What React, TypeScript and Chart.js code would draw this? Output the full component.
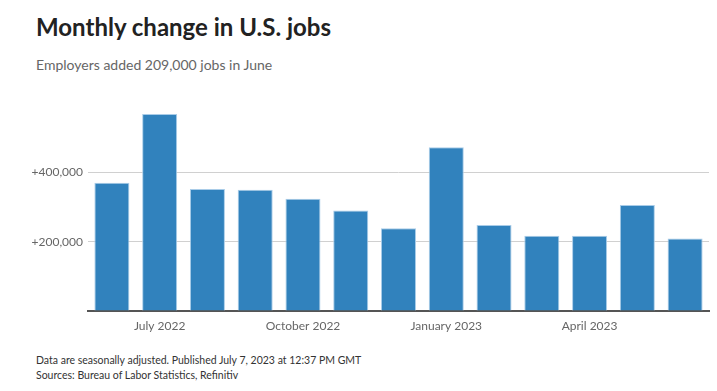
import React, { useEffect, useRef } from "react";
import { Chart, registerables } from "chart.js";

Chart.register(...registerables);

const months = [
  "June 2022", "July 2022", "August 2022", "September 2022", "October 2022",
  "November 2022", "December 2022", "January 2023", "February 2023",
  "March 2023", "April 2023", "May 2023", "June 2023",
];
const jobsAdded = [370000, 568000, 352000, 350000, 324000, 290000, 239000, 472000, 248000, 217000, 217000, 306000, 209000];
const yTicks = [0, 200000, 400000];

const FONT = "Lato, 'Open Sans', sans-serif";

export default function App() {
  const ref = useRef<HTMLCanvasElement | null>(null);

  useEffect(() => {
    if (!ref.current) return;
    const chart = new Chart(ref.current, {
      type: "bar",
      data: {
        labels: months,
        datasets: [
          {
            data: jobsAdded,
            backgroundColor: "#3182bd",
            borderColor: "#a9cce8",
            borderWidth: 1,
            barPercentage: 0.733,
            categoryPercentage: 1,
          },
        ],
      },
      options: {
        animation: false,
        responsive: false,
        maintainAspectRatio: false,
        layout: { padding: { left: 0, right: 8, top: 13, bottom: 0 } },
        plugins: { legend: { display: false }, tooltip: { enabled: false } },
        scales: {
          x: {
            grid: { display: false, drawTicks: false },
            border: { display: true, color: "#555", width: 2 },
            ticks: {
              autoSkip: false,
              maxRotation: 0,
              padding: 8,
              color: "#666",
              font: { family: FONT, size: 12 },
              callback: (_v: any, i: number) => (i % 3 === 1 ? months[i] : ""),
            },
            afterFit: (s: any) => {
              s.height = 29;
            },
          },
          y: {
            min: 0,
            max: 600000,
            afterBuildTicks: (s: any) => {
              s.ticks = yTicks.map((v) => ({ value: v }));
            },
            grid: {
              color: (c: any) => (c.tick && c.tick.value === 0 ? "rgba(0,0,0,0)" : "#d0d0d0"),
              lineWidth: 1,
              drawTicks: false,
            },
            border: { display: false },
            ticks: {
              padding: 5,
              color: "#666",
              font: { family: FONT, size: 12 },
              callback: (v: any) =>
                Number(v) === 0 ? "" : "+" + Number(v).toLocaleString("en-US"),
            },
            afterFit: (s: any) => {
              s.width = 88;
            },
          },
        },
      },
    });
    return () => chart.destroy();
  }, []);

  return (
    <div
      style={{
        position: "fixed",
        left: 0,
        top: 0,
        width: 717,
        height: 391,
        background: "#fff",
        fontFamily: FONT,
        overflow: "hidden",
      }}
    >
      <div
        style={{
          position: "absolute",
          left: 36,
          top: 13,
          fontSize: 24,
          fontWeight: 700,
          color: "#222",
          whiteSpace: "nowrap",
          lineHeight: "28px",
        }}
      >
        Monthly change in U.S. jobs
      </div>
      <div
        style={{
          position: "absolute",
          left: 36,
          top: 56,
          fontSize: 14,
          color: "#666",
          whiteSpace: "nowrap",
          lineHeight: "18px",
        }}
      >
        Employers added 209,000 jobs in June
      </div>
      <canvas
        ref={ref}
        width={717}
        height={250}
        style={{ position: "absolute", left: 0, top: 90, width: 717, height: 250 }}
      />
      <div
        style={{
          position: "absolute",
          left: 36,
          top: 353,
          fontSize: 10.5,
          color: "#333",
          whiteSpace: "nowrap",
          lineHeight: "15px",
        }}
      >
        <div>Data are seasonally adjusted. Published July 7, 2023 at 12:37 PM GMT</div>
        <div>Sources: Bureau of Labor Statistics, Refinitiv</div>
      </div>
    </div>
  );
}
